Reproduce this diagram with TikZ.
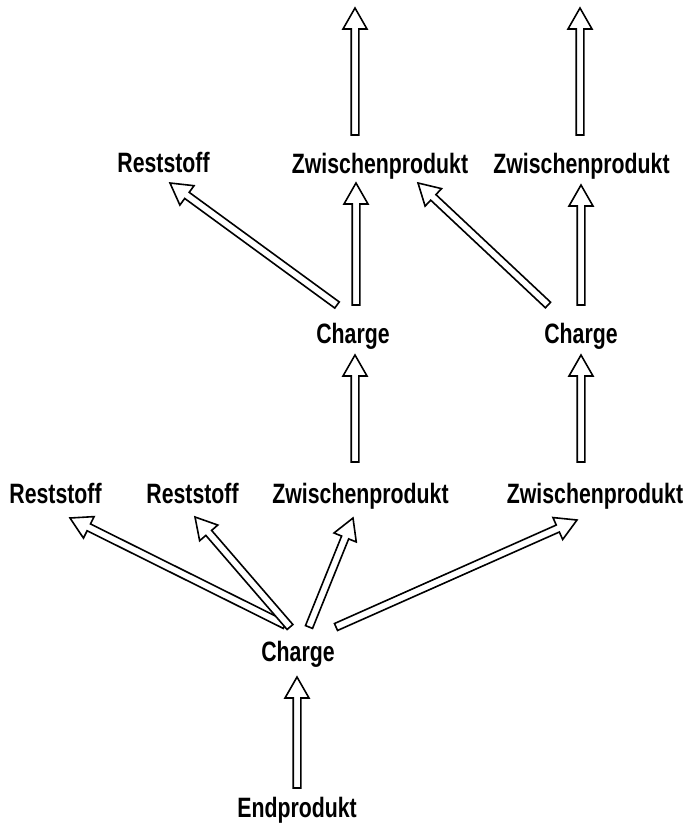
\documentclass[tikz,border=0pt]{standalone}
\usepackage{fontspec}
\setmainfont{Liberation Sans}[FakeStretch=0.76]
\usetikzlibrary{calc}
\tikzset{
  lbl/.style={anchor=base, inner sep=0pt, font=\bfseries\fontsize{28}{30}\selectfont},
  fatline/.style={draw=black, line width=1.6pt, line join=miter, fill=white},
}
% Hollow block arrow from (#1)+(#2) to (#3)+(#4): closed tail, open triangular head
\newcommand\fatarrow[4]{%
  \draw[fatline] let \p1=($(#1)+(#2)$), \p2=($(#3)+(#4)$) in
    ($(\p1)!3.8pt!90:(\p2)$) --
    ($(\p2)!21pt!(\p1)!3.8pt!-90:(\p1)$) --
    ($(\p2)!21pt!(\p1)!12pt!-90:(\p1)$) --
    (\p2) --
    ($(\p2)!21pt!(\p1)!12pt!90:(\p1)$) --
    ($(\p2)!21pt!(\p1)!3.8pt!90:(\p1)$) --
    ($(\p1)!3.8pt!-90:(\p2)$) -- cycle;}
\begin{document}
\begin{tikzpicture}[x=1pt,y=-1pt]
\useasboundingbox (0,0) rectangle (686,825);

% labels
\node[lbl] (R1) at (163.5,172) {Reststoff};
\node[lbl] (Z1) at (380,173) {Zwischenprodukt};
\node[lbl] (Z2) at (581.5,173) {Zwischenprodukt};
\node[lbl] (C1) at (353,343) {Charge};
\node[lbl] (C2) at (581,343) {Charge};
\node[lbl] (R2) at (55.5,503) {Reststoff};
\node[lbl] (R3) at (192.5,503) {Reststoff};
\node[lbl] (Z3) at (360.5,503) {Zwischenprodukt};
\node[lbl] (Z4) at (595,503) {Zwischenprodukt};
\node[lbl] (C0) at (298,661) {Charge};
\node[lbl] (E) at (297,817) {Endprodukt};

% open ends at the top
\coordinate (T1) at (355,8);
\coordinate (T2) at (580,8);

% arrows
\fatarrow{Z1.base}{-25,-38}{T1}{0,0}
\fatarrow{Z2.base}{-1.5,-38}{T2}{0,0}
\fatarrow{C1.base}{3,-38}{Z1.base}{-24,10}
\fatarrow{C1.base}{-16,-38}{R1.base}{6.5,11}
\fatarrow{C2.base}{-33,-38}{Z1.base}{38,10}
\fatarrow{C2.base}{0,-38}{Z2.base}{-0.5,12}
\fatarrow{Z3.base}{-5.5,-41}{C1.base}{2,12}
\fatarrow{Z4.base}{-14,-41}{C2.base}{0,12}
\fatarrow{C0.base}{-13,-36}{R2.base}{14.5,15}
\fatarrow{C0.base}{-8,-34}{R3.base}{2.5,14}
\fatarrow{C0.base}{11,-34}{Z3.base}{-7.5,15}
\fatarrow{C0.base}{38,-34}{Z4.base}{-18,17}
\fatarrow{E.base}{0,-29}{C0.base}{-1,16}
\end{tikzpicture}
\end{document}
